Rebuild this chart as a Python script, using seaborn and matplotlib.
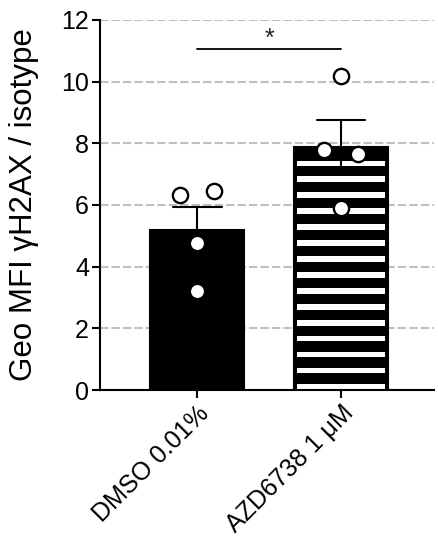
import numpy as np
import pandas as pd
import seaborn as sns
import matplotlib.pyplot as plt

# data
groups = ['DMSO 0.01%', 'AZD6738 1 μM']
dmso_values = [6.33, 6.44, 4.77, 3.21]
azd_values = [7.79, 7.66, 10.19, 5.91]
sig_y = 11.05
sig_label = '*'
y_ticks = [0, 2, 4, 6, 8, 10, 12]

df = pd.DataFrame({
    'group': [groups[0]] * len(dmso_values) + [groups[1]] * len(azd_values),
    'value': dmso_values + azd_values,
})

sns.set_style('ticks')
plt.rcParams['font.family'] = ['Liberation Sans', 'DejaVu Sans']


# spread points of the same group that sit at almost the same height
def spread_close_points(ax, gap=0.5, shift=0.118):
    for coll in ax.collections:
        xy = np.asarray(coll.get_offsets()).copy()
        new_x = xy[:, 0].copy()
        for i in range(len(xy)):
            for j in range(len(xy)):
                if i != j and abs(xy[j, 0] - xy[i, 0]) < 0.3 and abs(xy[j, 1] - xy[i, 1]) < gap:
                    new_x[i] = xy[i, 0] + (-shift if i < j else shift)
        xy[:, 0] = new_x
        coll.set_offsets(xy)


# horizontal white stripes over a black bar (matplotlib hatching is too dense)
def stripe_bar(ax, bar, period=0.517, stripe_h=0.18, first=0.114, inset=0.022):
    x0 = bar.get_x() + inset
    w = bar.get_width() - 2 * inset
    top = bar.get_height()
    for c in np.arange(first, top - stripe_h, period):
        ax.add_patch(plt.Rectangle((x0, c - stripe_h / 2), w, stripe_h,
                                   facecolor='white', linewidth=0, zorder=1.5))


fig = plt.figure(figsize=(4.38, 5.49), dpi=100)
ax = fig.add_axes([0.2283, 0.2896, 0.7626, 0.674])

sns.barplot(data=df, x='group', y='value', order=groups, errorbar='se',
            capsize=0.34, width=0.65, color='black', edgecolor='black',
            linewidth=1.5, err_kws={'color': 'black', 'linewidth': 1.5},
            saturation=1, ax=ax)
stripe_bar(ax, ax.patches[1])

sns.stripplot(data=df, x='group', y='value', order=groups, jitter=False,
              size=11, color='white', edgecolor='black', linewidth=1.7,
              zorder=5, ax=ax)
spread_close_points(ax)

# significance bracket
ax.plot([0, 1], [sig_y, sig_y], color='black', linewidth=1.3)
ax.text(0.5, sig_y + 0.12, sig_label, ha='center', va='baseline', fontsize=18)

ax.set_ylim(0, 12)
ax.set_xlim(-0.674, 1.646)
ax.set_yticks(y_ticks)
ax.yaxis.grid(True, color='#c0c0c0', linestyle=(0, (4, 1.5)), linewidth=1.5)
ax.set_axisbelow(True)
sns.despine(ax=ax)
for side in ['left', 'bottom']:
    ax.spines[side].set_linewidth(1.5)
    ax.spines[side].set_color('black')
ax.tick_params(axis='both', width=1.5, length=6, labelsize=18, colors='black', pad=2)
ax.set_xticks(range(len(groups)))
ax.set_xticklabels(groups, rotation=45, ha='right', rotation_mode='anchor')
ax.set_xlabel('')
ax.set_ylabel('Geo MFI γH2AX / isotype', fontsize=22.5, labelpad=16, color='black')

fig.savefig('out.png', dpi=100)
